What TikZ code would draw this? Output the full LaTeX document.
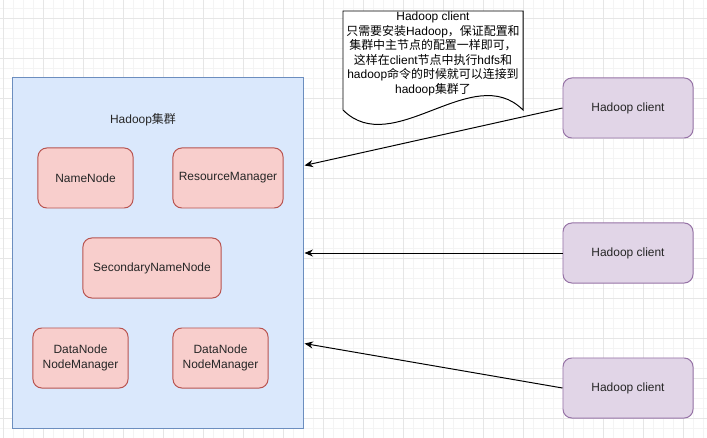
\documentclass[tikz,border=0pt]{standalone}
\usepackage{fontspec}
\setmainfont{Liberation Sans}
\newfontfamily\cjk{Noto Sans CJK SC}
\newcommand{\zh}[1]{{\cjk #1}}
\usepackage{tikz}
\usetikzlibrary{calc}
\usetikzlibrary{arrows.meta}

\definecolor{clusterfill}{HTML}{DAE8FC}
\definecolor{clusterline}{HTML}{6C8EBF}
\definecolor{rolefill}{HTML}{F8CECC}
\definecolor{roleline}{HTML}{B85450}
\definecolor{clientfill}{HTML}{E1D5E7}
\definecolor{clientline}{HTML}{9673A6}
\definecolor{gridminor}{HTML}{F4F4F4}
\definecolor{gridmajor}{HTML}{E6E6E6}

\tikzset{
  txt/.style={font=\fontsize{8.5}{10.3}\selectfont, text=black!85},
  cluster/.style={draw=clusterline, fill=clusterfill, line width=0.7pt, inner sep=0pt,
    minimum width=7.25cm, minimum height=8.75cm},
  role/.style={txt, draw=roleline, fill=rolefill, line width=0.7pt, rounded corners=2.2mm,
    inner sep=0pt, minimum height=1.5cm, align=center},
  client/.style={txt, draw=clientline, fill=clientfill, line width=0.7pt, rounded corners=2.2mm,
    inner sep=0pt, minimum width=3.25cm, minimum height=1.5cm},
  link/.style={line width=0.7pt, -{Stealth[length=6pt,width=5pt,inset=2pt]}}
}

\begin{document}
\begin{tikzpicture}[x=0.025cm,y=-0.025cm]
  \useasboundingbox (0,0) rectangle (707,438);
  \fill[white] (0,0) rectangle (707,438);

  % grid
  \foreach \x in {3,13,...,703} \draw[gridminor, line width=0.4pt] (\x,0) -- (\x,438);
  \foreach \y in {8,18,...,438} \draw[gridminor, line width=0.4pt] (0,\y) -- (707,\y);
  \foreach \x in {3,43,...,683} \draw[gridmajor, line width=0.4pt] (\x,0) -- (\x,438);
  \foreach \y in {18,58,...,418} \draw[gridmajor, line width=0.4pt] (0,\y) -- (707,\y);

  % cluster
  \node [cluster] (cluster) at (158,253) {};
  \node [txt] (clustername) at (143,120) {Hadoop\zh{集群}};

  \node [role, minimum width=2.375cm] (namenode) at (85.5,178) {NameNode};
  \node [role, minimum width=2.75cm] (resmanager) at (228,178) {ResourceManager};
  \node [role, minimum width=3.45cm] (secnamenode) at (152,268) {SecondaryNameNode};
  \node [role, minimum width=2.375cm] (datanode1) at (80.5,358) {DataNode\\NodeManager};
  \node [role, minimum width=2.375cm] (datanode2) at (220.5,358) {DataNode\\NodeManager};

  % clients
  \node [client] (client1) at (628,108) {Hadoop client};
  \node [client] (client2) at (628,253) {Hadoop client};
  \node [client] (client3) at (628,388) {Hadoop client};

  \coordinate (in1) at ($ (cluster.north east)+(1,88) $);
  \coordinate (in2) at ($ (cluster.east)+(1,0) $);
  \coordinate (in3) at ($ (cluster.south east)+(1,-85) $);

  \draw [link] (client1.west) -- (in1);
  \draw [link] (client2.west) -- (in2);
  \draw [link] (client3.west) -- (in3);

  % note
  \draw [fill=white, line width=0.7pt] (343,11) -- (523,11) -- (523,110)
    .. controls (473,60) and (393,160) .. (343,110) -- cycle;
  \node [txt, align=center, text=black] (note) at (433,54)
    {Hadoop client\\
     \zh{只需要安装}Hadoop\zh{，保证配置和}\\
     \zh{集群中主节点的配置一样即可，}\\
     \zh{这样在}client\zh{节点中执行}hdfs\zh{和}\\
     hadoop\zh{命令的时候就可以连接到}\\
     hadoop\zh{集群了}};
\end{tikzpicture}
\end{document}
